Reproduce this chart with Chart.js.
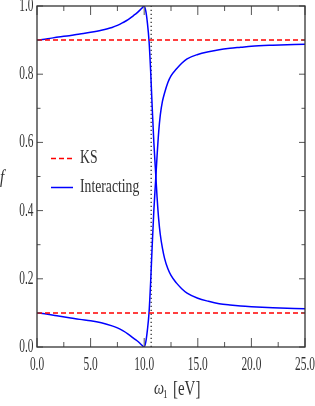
<!DOCTYPE html>
<html>
<head>
<meta charset="utf-8">
<script src="https://cdn.jsdelivr.net/npm/chart.js@4.4.1/dist/chart.umd.min.js"></script>
<style>
	html, body { margin: 0; padding: 0; background: #fff; }
	#wrap { width: 315px; height: 406px; }
</style>
</head>
<body>
<div id="wrap"><canvas id="plot"></canvas></div>
<script>
// frequency omega_1 in eV
const omega = [0, 1, 2, 3, 4, 5, 6, 7, 7.5, 8, 8.5, 9, 9.3, 9.6, 9.8, 10,
	10.15, 10.3, 10.45, 10.6, 10.75, 10.9, 11.05, 11.2, 11.35, 11.5, 11.7, 11.9,
	12.2, 12.5, 13, 13.5, 14, 15, 16, 17, 18, 19, 20, 22, 25];
// interacting occupations (two branches)
const fBranchA = [0.900, 0.904, 0.909, 0.913, 0.918, 0.923, 0.929, 0.937, 0.943, 0.951,
	0.960, 0.972, 0.979, 0.988, 0.994, 1.000, 0.985, 0.950, 0.898, 0.810, 0.700, 0.600,
	0.520, 0.440, 0.375, 0.330, 0.290, 0.260, 0.230, 0.210, 0.188, 0.171, 0.158, 0.143,
	0.134, 0.127, 0.123, 0.120, 0.118, 0.115, 0.112];
const fBranchB = [0.100, 0.096, 0.091, 0.086, 0.081, 0.077, 0.071, 0.062, 0.056, 0.048,
	0.038, 0.026, 0.019, 0.011, 0.005, 0.000, 0.015, 0.050, 0.100, 0.190, 0.300, 0.400,
	0.480, 0.560, 0.630, 0.680, 0.720, 0.745, 0.775, 0.795, 0.815, 0.832, 0.845, 0.858,
	0.866, 0.872, 0.876, 0.879, 0.882, 0.885, 0.888];
// KS occupations (constant)
const ksLevels = [0.9, 0.1];
const omegaRange = [0, 25];
const resonance = 10.65;

const xTicks = [0, 5, 10, 15, 20, 25];
const xTickLabels = ["0.0", "5.0", "10.0", "15.0", "20.0", "25.0"];
const xMinorTicks = [2.5, 7.5, 12.5, 17.5, 22.5];
const yTicks = [0, 0.2, 0.4, 0.6, 0.8, 1.0];
const yTickLabels = ["0.0", "0.2", "0.4", "0.6", "0.8", "1.0"];
const yMinorTicks = [0.1, 0.3, 0.5, 0.7, 0.9];

const RED = "#ff0000";
const BLUE = "#0000ff";
const INK = "#333333";
const SERIF = "'Liberation Serif', 'DejaVu Serif', serif";

const toPoints = (xs, ys) => xs.map((x, i) => ({ x: x, y: ys[i] }));

// latex fonts look narrow, so squeeze text horizontally
function squeezed(ctx, text, x, y, size, sx, align, style) {
	ctx.save();
	ctx.font = (style || "") + " " + size + "px " + SERIF;
	ctx.fillStyle = INK;
	ctx.textBaseline = "middle";
	ctx.textAlign = align;
	ctx.translate(x, y);
	ctx.scale(sx, 1);
	ctx.fillText(text, 0, 0);
	ctx.restore();
}

const framePlugin = {
	id: "frame",
	afterDatasetsDraw(chart) {
		const ctx = chart.ctx;
		const a = chart.chartArea;
		const xs = chart.scales.x;
		const ys = chart.scales.y;
		ctx.save();
		ctx.strokeStyle = "#555";
		ctx.lineWidth = 1;
		const tick = (x1, y1, x2, y2) => {
			ctx.beginPath();
			ctx.moveTo(x1, y1);
			ctx.lineTo(x2, y2);
			ctx.stroke();
		};
		xTicks.forEach((v) => {
			const px = xs.getPixelForValue(v);
			tick(px, a.bottom, px, a.bottom - 9);
			tick(px, a.top, px, a.top + 9);
		});
		xMinorTicks.forEach((v) => {
			const px = xs.getPixelForValue(v);
			tick(px, a.bottom, px, a.bottom - 5);
			tick(px, a.top, px, a.top + 5);
		});
		yTicks.forEach((v) => {
			const py = ys.getPixelForValue(v);
			tick(a.left, py, a.left + 6, py);
			tick(a.right, py, a.right - 6, py);
		});
		yMinorTicks.forEach((v) => {
			const py = ys.getPixelForValue(v);
			tick(a.left, py, a.left + 3.5, py);
			tick(a.right, py, a.right - 3.5, py);
		});
		ctx.strokeStyle = INK;
		ctx.lineWidth = 1.3;
		ctx.strokeRect(a.left, a.top, a.right - a.left, a.bottom - a.top);
		ctx.restore();
	},
	afterDraw(chart) {
		const ctx = chart.ctx;
		const a = chart.chartArea;
		const xs = chart.scales.x;
		const ys = chart.scales.y;
		xTicks.forEach((v, i) => {
			squeezed(ctx, xTickLabels[i], xs.getPixelForValue(v), a.bottom + 18, 19, 0.6, "center");
		});
		yTicks.forEach((v, i) => {
			squeezed(ctx, yTickLabels[i], a.left - 3.5, ys.getPixelForValue(v), 19, 0.6, "right");
		});
		// axis titles
		squeezed(ctx, "f", 2, 178, 19, 0.8, "center", "italic");
		squeezed(ctx, "\u03c9", 154, 389, 19, 0.75, "left", "italic");
		squeezed(ctx, "1", 163, 395, 13, 0.7, "left");
		squeezed(ctx, "[eV]", 173, 389, 22, 0.68, "left");
		// legend
		const items = [chart.data.datasets[0], chart.data.datasets[2]];
		const rows = [158.5, 187.5];
		items.forEach((ds, i) => {
			ctx.save();
			ctx.strokeStyle = ds.borderColor;
			ctx.lineWidth = ds.borderWidth;
			ctx.setLineDash(ds.borderDash || []);
			ctx.beginPath();
			ctx.moveTo(51, rows[i]);
			ctx.lineTo(73, rows[i]);
			ctx.stroke();
			ctx.restore();
			squeezed(ctx, ds.label, 80, rows[i], 19, 0.72, "left");
		});
	},
};

const lineStyle = { pointRadius: 0, fill: false, borderWidth: 1.5 };

new Chart(document.getElementById("plot").getContext("2d"), {
	type: "line",
	data: {
		datasets: [
			Object.assign({
				label: "KS",
				data: toPoints(omegaRange, [ksLevels[0], ksLevels[0]]),
				borderColor: RED,
				borderDash: [5, 3],
			}, lineStyle),
			Object.assign({
				label: "KS",
				data: toPoints(omegaRange, [ksLevels[1], ksLevels[1]]),
				borderColor: RED,
				borderDash: [5, 3],
			}, lineStyle),
			Object.assign({
				label: "Interacting",
				data: toPoints(omega, fBranchA),
				borderColor: BLUE,
				cubicInterpolationMode: "monotone",
			}, lineStyle),
			Object.assign({
				label: "Interacting",
				data: toPoints(omega, fBranchB),
				borderColor: BLUE,
				cubicInterpolationMode: "monotone",
			}, lineStyle),
			Object.assign({}, lineStyle, {
				label: "resonance",
				data: toPoints([resonance, resonance], [0, 1]),
				borderColor: "#222",
				borderWidth: 1.2,
				borderDash: [1.2, 2.8],
			}),
		],
	},
	options: {
		responsive: true,
		maintainAspectRatio: false,
		animation: false,
		layout: { padding: { top: 6, right: 10, left: 0, bottom: 0 } },
		plugins: {
			legend: { display: false },
			tooltip: { enabled: false },
		},
		scales: {
			x: {
				type: "linear",
				min: 0,
				max: 25,
				grid: { display: false },
				border: { display: false },
				ticks: { display: false },
				afterFit: (s) => { s.height = 59; },
			},
			y: {
				type: "linear",
				min: 0,
				max: 1,
				grid: { display: false },
				border: { display: false },
				ticks: { display: false },
				afterFit: (s) => { s.width = 37; },
			},
		},
	},
	plugins: [framePlugin],
});
</script>
</body>
</html>
